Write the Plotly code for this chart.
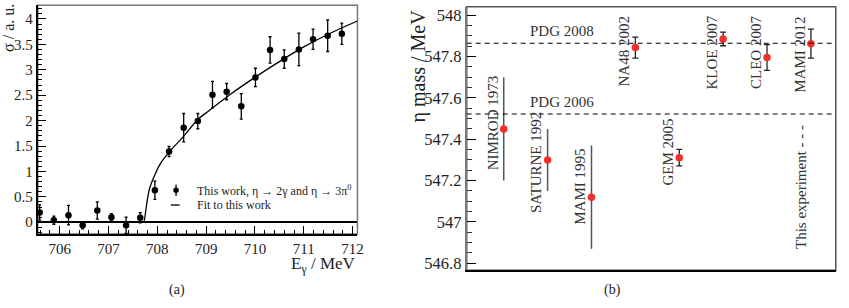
import plotly.graph_objects as go

# ---------------- Panel (a) data ----------------
e_gamma = [705.59, 705.88, 706.18, 706.47, 706.77, 707.06, 707.36, 707.65,
           707.95, 708.24, 708.54, 708.83, 709.13, 709.42, 709.72, 710.01,
           710.31, 710.60, 710.90, 711.19, 711.49, 711.78]
sigma = [0.19, 0.04, 0.14, -0.06, 0.23, 0.10, -0.06, 0.09,
         0.63, 1.39, 1.86, 1.99, 2.51, 2.57, 2.28, 2.85,
         3.39, 3.21, 3.40, 3.60, 3.67, 3.71]
sigma_err = [0.15, 0.08, 0.19, 0.07, 0.17, 0.07, 0.16, 0.10,
             0.18, 0.10, 0.28, 0.15, 0.26, 0.16, 0.25, 0.18,
             0.26, 0.18, 0.32, 0.20, 0.31, 0.21]

# fit curve
fit_e = [707.73, 707.77, 707.80, 707.84, 707.93, 708.06, 708.25, 708.52,
         708.84, 709.05, 709.5, 710.0, 710.5, 711.0, 711.5, 712.1]
fit_sigma = [0.0, 0.27, 0.47, 0.66, 0.89, 1.15, 1.39, 1.67,
             2.03, 2.19, 2.52, 2.85, 3.16, 3.45, 3.70, 3.96]

# ---------------- Panel (b) data ----------------
experiments = ["NIMROD 1973", "SATURNE 1992", "MAMI 1995", "NA48 2002",
               "GEM 2005", "KLOE 2007", "CLEO 2007", "MAMI 2012"]
eta_mass = [547.45, 547.30, 547.12, 547.843, 547.311, 547.885, 547.795, 547.862]
eta_err = [0.25, 0.15, 0.25, 0.051, 0.04, 0.033, 0.062, 0.07]
pdg_labels = ["PDG 2008", "PDG 2006"]
pdg_values = [547.864, 547.522]
this_exp_label = "This experiment - - -"

SERIF = "Liberation Serif, Times New Roman, Times, serif"
W, H = 849, 308

def px(x):
    return x / W

def py(y):
    return 1 - y / H

fig = go.Figure()

# panel (a) traces
fig.add_trace(go.Scatter(
    x=fit_e, y=fit_sigma, mode="lines", line=dict(color="black", width=1.3, shape="spline"),
    xaxis="x", yaxis="y", showlegend=False, hoverinfo="skip"))
fig.add_trace(go.Scatter(
    x=e_gamma, y=sigma, mode="markers",
    marker=dict(color="black", size=6.5),
    error_y=dict(type="data", array=sigma_err, color="black", thickness=1.3, width=1.5),
    xaxis="x", yaxis="y", showlegend=False))

# panel (b) traces
pos = list(range(1, len(experiments) + 1))
old_idx = [0, 1, 2]
new_idx = [3, 4, 5, 6, 7]
fig.add_trace(go.Scatter(
    x=[pos[i] for i in old_idx], y=[eta_mass[i] for i in old_idx], mode="markers",
    marker=dict(color="#f0302a", size=7.5),
    error_y=dict(type="data", array=[eta_err[i] for i in old_idx], color="#555555",
                 thickness=1.5, width=0),
    xaxis="x2", yaxis="y2", showlegend=False))
fig.add_trace(go.Scatter(
    x=[pos[i] for i in new_idx], y=[eta_mass[i] for i in new_idx], mode="markers",
    marker=dict(color="#f0302a", size=7.5),
    error_y=dict(type="data", array=[eta_err[i] for i in new_idx], color="#222222",
                 thickness=1.3, width=3),
    xaxis="x2", yaxis="y2", showlegend=False))

axis_common = dict(showline=True, linecolor="black", linewidth=2, ticks="inside",
                   tickcolor="black", tickwidth=1.2, showgrid=False, zeroline=False,
                   tickfont=dict(family=SERIF, size=15, color="#222"))

fig.update_layout(
    width=W, height=H, margin=dict(l=0, r=0, t=0, b=0),
    paper_bgcolor="white", plot_bgcolor="white",
    font=dict(family=SERIF),
    xaxis=dict(domain=[px(38), px(360)], range=[705.55, 712.1], anchor="y",
               dtick=1, tick0=706, ticklen=8,
               minor=dict(dtick=0.2, ticks="inside", ticklen=4, tickcolor="black", tickwidth=1),
               **axis_common),
    yaxis=dict(domain=[py(236), py(4.3)], range=[-0.23, 4.27], anchor="x",
               dtick=0.5, tick0=0, ticklen=8,
               minor=dict(dtick=0.1, ticks="inside", ticklen=4, tickcolor="black", tickwidth=1),
               **{**axis_common, "zeroline": True}),
    xaxis2=dict(domain=[px(470), px(841.7)], range=[0.156, 8.566], anchor="y2",
                showline=True, linecolor="black", linewidth=2, ticks="",
                showticklabels=False, showgrid=False, zeroline=False),
    yaxis2=dict(domain=[py(272.7), py(5.7)], range=[546.767, 548.041], anchor="x2",
                dtick=0.2, tick0=546.8, ticklen=9,
                minor=dict(dtick=0.05, ticks="inside", ticklen=5, tickcolor="#333", tickwidth=1),
                **{**axis_common, "linecolor": "#777",
                   "tickfont": dict(family=SERIF, size=16.5, color="#222")}),
)
fig.update_yaxes(zerolinecolor="black", zerolinewidth=1.5, selector=dict(anchor="x"))

shapes = []
# frames
shapes.append(dict(type="rect", xref="x domain", yref="y domain", x0=0, x1=1, y0=0, y1=1,
                   line=dict(color="#777", width=1.5), layer="below"))
shapes.append(dict(type="rect", xref="x2 domain", yref="y2 domain", x0=0, x1=1, y0=0, y1=1,
                   line=dict(color="#555", width=1.5), layer="below"))
# PDG dashed lines
for v in pdg_values:
    shapes.append(dict(type="line", xref="x2 domain", yref="y2", x0=0, x1=1, y0=v, y1=v,
                       line=dict(color="black", width=1.2, dash="5px,4px")))
# manual legend glyphs (panel a)
shapes.append(dict(type="line", xref="paper", yref="paper", x0=px(177.3), x1=px(177.3),
                   y0=py(186), y1=py(197.5), line=dict(color="black", width=1.3)))
shapes.append(dict(type="circle", xref="paper", yref="paper", x0=px(174.5), x1=px(180.1),
                   y0=py(189), y1=py(194.4), fillcolor="black", line=dict(color="black", width=0)))
shapes.append(dict(type="line", xref="paper", yref="paper", x0=px(172), x1=px(181),
                   y0=py(206.7), y1=py(206.7), line=dict(color="black", width=1.3)))
fig.update_layout(shapes=shapes)

ann = []
# legend texts
ann.append(dict(text="This work, η → 2γ and η → 3π<sup>0</sup>", xref="paper", yref="paper",
                x=px(196), y=py(191.7), xanchor="left", yanchor="middle", showarrow=False,
                font=dict(family=SERIF, size=12, color="#222")))
ann.append(dict(text="Fit to this work", xref="paper", yref="paper",
                x=px(196), y=py(206.7), xanchor="left", yanchor="middle", showarrow=False,
                font=dict(family=SERIF, size=12, color="#222")))
# axis titles panel a
ann.append(dict(text="σ / a. u.", xref="paper", yref="paper", x=px(9), y=py(1),
                xanchor="center", yanchor="top", textangle=-90, showarrow=False,
                font=dict(family=SERIF, size=16, color="#222")))
ann.append(dict(text="E<sub>γ</sub> / MeV", xref="paper", yref="paper", x=px(361), y=py(267),
                xanchor="right", yanchor="middle", showarrow=False,
                font=dict(family=SERIF, size=17, color="#222")))
# axis title panel b
ann.append(dict(text="η mass / MeV", xref="paper", yref="paper", x=px(421), y=py(7),
                xanchor="center", yanchor="top", textangle=-90, showarrow=False,
                font=dict(family=SERIF, size=20, color="#222")))
# panel labels
ann.append(dict(text="(a)", xref="paper", yref="paper", x=px(178), y=py(293),
                xanchor="center", yanchor="middle", showarrow=False,
                font=dict(family=SERIF, size=14, color="#222")))
ann.append(dict(text="(b)", xref="paper", yref="paper", x=px(617), y=py(293),
                xanchor="center", yanchor="middle", showarrow=False,
                font=dict(family=SERIF, size=14, color="#222")))
# PDG labels
for lab, v in zip(pdg_labels, pdg_values):
    ann.append(dict(text=lab, xref="x2", yref="y2", x=pos[1] + 0.32, y=v,
                    xanchor="center", yanchor="bottom", yshift=2, showarrow=False,
                    font=dict(family=SERIF, size=15, color="#333")))
# experiment labels (rotated)
label_bottom = [547.241, 547.034, 546.979, 547.647, 547.165, 547.631, 547.631, 547.615]
for p, lab, yb in zip(pos, experiments, label_bottom):
    ann.append(dict(text=lab, xref="x2", yref="y2", x=p, y=yb, xshift=-11,
                    xanchor="center", yanchor="bottom", textangle=-90, showarrow=False,
                    font=dict(family=SERIF, size=15, color="#333")))
ann.append(dict(text=this_exp_label, xref="x2", yref="y2", x=pos[-1], y=546.859, xshift=-10,
                xanchor="center", yanchor="bottom", textangle=-90, showarrow=False,
                font=dict(family=SERIF, size=15, color="#333")))
fig.update_layout(annotations=ann)

fig.write_html("out.html")
